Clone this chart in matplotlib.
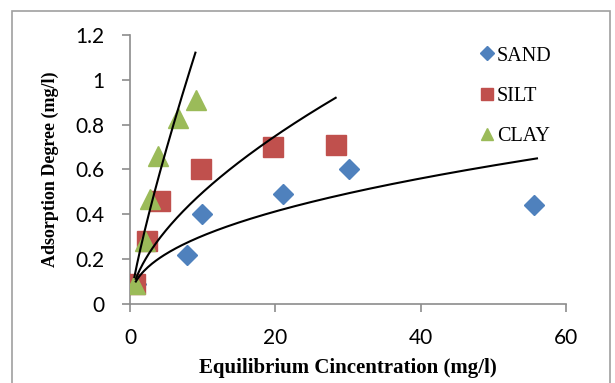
import matplotlib
matplotlib.use("Agg")
import matplotlib.pyplot as plt
from matplotlib.lines import Line2D
from matplotlib.patches import Rectangle
import numpy as np

# measured adsorption points per soil type
SAND_X = [0.8, 7.9, 9.9, 21.1, 30.1, 55.6]
SAND_Y = [0.09, 0.22, 0.40, 0.49, 0.60, 0.44]
SILT_X = [0.7, 2.3, 4.1, 9.8, 19.7, 28.3]
SILT_Y = [0.09, 0.28, 0.46, 0.60, 0.70, 0.71]
CLAY_X = [0.7, 2.1, 2.8, 3.9, 6.6, 9.1]
CLAY_Y = [0.09, 0.28, 0.47, 0.66, 0.83, 0.91]

# Freundlich power-law trendlines: q = K * C^n, drawn over [start, end]
SAND_FIT = (0.1105, 0.44, 0.8, 56.0)
SILT_FIT = (0.128, 0.59, 0.8, 28.3)
CLAY_FIT = (0.183, 0.825, 0.6, 9.0)

X_TICKS = [0, 20, 40, 60]
Y_TICKS = [0, 0.2, 0.4, 0.6, 0.8, 1, 1.2]
Y_TICK_LABELS = ["0", "0.2", "0.4", "0.6", "0.8", "1", "1.2"]

BLUE = "#4F81BD"
RED = "#C0504D"
GREEN = "#9BBB59"
GRAY = "#8C8C8C"

fig = plt.figure(figsize=(6.15, 3.83), dpi=100)
ax = fig.add_axes([0.2114, 0.2063, 0.709, 0.7023])

# outer chart frame
fig.patches.append(Rectangle((12 / 615, -0.1), (610 - 12) / 615, 1.1 - 11 / 383,
                             transform=fig.transFigure, fill=False,
                             edgecolor="#A0A0A0", linewidth=1.2))

ax.plot(SAND_X, SAND_Y, "D", color=BLUE, markersize=10.2, zorder=3)
ax.plot(SILT_X, SILT_Y, "s", color=RED, markersize=14.2, zorder=4)
ax.plot(CLAY_X, CLAY_Y, "^", color=GREEN, markersize=15, zorder=5)

for k, n, x0, x1 in (SAND_FIT, SILT_FIT, CLAY_FIT):
    xs = np.linspace(x0, x1, 200)
    ax.plot(xs, k * xs ** n, color="black", linewidth=1.5, zorder=6)

ax.set_xlim(0, 60)
ax.set_ylim(0, 1.2)
ax.set_xticks(X_TICKS)
ax.set_yticks(Y_TICKS)
ax.set_xticklabels([str(t) for t in X_TICKS], fontfamily="Lato", fontsize=15)
ax.set_yticklabels(Y_TICK_LABELS, fontfamily="Lato", fontsize=15)
ax.tick_params(direction="out", length=5.5, width=1.2, color=GRAY)
ax.tick_params(axis="x", pad=12)
ax.tick_params(axis="y", pad=13)

for side in ("top", "right"):
    ax.spines[side].set_visible(False)
for side in ("left", "bottom"):
    ax.spines[side].set_color(GRAY)
    ax.spines[side].set_linewidth(1.2)

ax.set_xlabel("Equilibrium Cincentration (mg/l)", fontfamily="Liberation Serif",
              fontweight="bold", fontsize=15, labelpad=7)
ax.set_ylabel("Adsorption Degree (mg/l)", fontfamily="Liberation Serif",
              fontweight="bold", fontsize=13, labelpad=12)

handles = [
    Line2D([], [], marker="D", color=BLUE, linestyle="none", markersize=7),
    Line2D([], [], marker="s", color=RED, linestyle="none", markersize=8.5),
    Line2D([], [], marker="^", color=GREEN, linestyle="none", markersize=9),
]
leg = ax.legend(handles, ["SAND", "SILT", "CLAY"], loc="upper left",
                bbox_to_anchor=(0.779, 0.995), frameon=False, handlelength=0.7,
                handletextpad=0.15, labelspacing=1.05, borderpad=0,
                prop={"family": "Liberation Serif", "size": 14.5})

fig.savefig("out.png", dpi=100)
